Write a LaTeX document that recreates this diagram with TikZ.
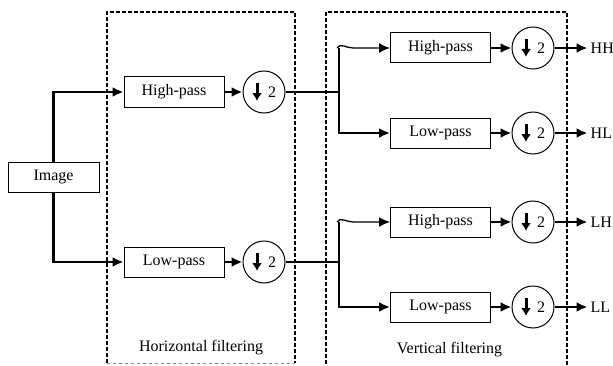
\documentclass[tikz,border=0pt]{standalone}
\usepackage{fontspec}
\setmainfont{Liberation Serif}
\usetikzlibrary{positioning, arrows.meta, calc}

\begin{document}
\begin{tikzpicture}[x=1pt, y=1pt, node distance=90pt, >={Latex[length=11pt,width=10pt]},
    font=\fontsize{16}{19}\selectfont]
        \tikzstyle{filt}=[draw, rectangle, line width=1pt, minimum width=100pt, minimum height=30pt, inner sep=0pt];
        \tikzstyle{down}=[draw, circle, line width=1pt, minimum size=42pt, inner sep=0pt,
          path picture={
            \draw[line width=3pt, -{Latex[length=8pt,width=10pt]}] ([xshift=-7pt,yshift=9pt]path picture bounding box.center) -- ++(0,-18pt);
            \node at ([xshift=8pt]path picture bounding box.center) {2};}];
        \tikzstyle{wire}=[line width=2.6pt];
        \tikzstyle{stage}=[line width=1.6pt, dash pattern=on 4pt off 2pt];
        \tikzstyle{outlabel}=[inner xsep=3pt, inner ysep=0pt];
        \useasboundingbox (0,0) rectangle (613,365);

        % frames of the two stages
        \draw[stage] (107,2) -- (107,353) -- (295,353) -- (295,2);
        \draw[gray, dashed, line width=0.5pt] (107,2) -- (295,2);
        \draw[stage] (326,-5) -- (326,353) -- (567,353) -- (567,-5);
        \node (hlabel) at (201,17) {Horizontal filtering};
        \node (vlabel) at (449.5,15) {Vertical filtering};

        % horizontal stage
        \node[filt, minimum width=91pt] (image) at (53.5,188) {Image};
        \node[filt] (hp) at (174,273) {High-pass};
        \node[filt, below of=hp, node distance=170pt] (lp) {Low-pass};
        \node[down, right of=hp] (dh) {};
        \node[down, right of=lp] (dl) {};
        \coordinate (bh) at (339,273);
        \coordinate (bl) at (339,103);
        \coordinate (bht) at (339,317);
        \coordinate (blt) at (339,143);

        % vertical stage
        \node[filt] (hh) at (440.5,317) {High-pass};
        \node[filt, below of=hh, node distance=85pt] (hl) {Low-pass};
        \node[filt] (lh) at (440.5,143) {High-pass};
        \node[filt, below of=lh, node distance=85pt] (ll) {Low-pass};
        \node[down, right of=hh, node distance=92.5pt] (dhh) {};
        \node[down, right of=hl, node distance=92.5pt] (dhl) {};
        \node[down, right of=lh, node distance=92.5pt] (dlh) {};
        \node[down, right of=ll, node distance=92.5pt] (dll) {};
        \node[outlabel, right=33pt of dhh] (ohh) {HH};
        \node[outlabel, right=33pt of dhl] (ohl) {HL};
        \node[outlabel, right=33pt of dlh] (olh) {LH};
        \node[outlabel, right=33pt of dll] (oll) {LL};

        \draw[wire, ->] (image.north) |- (hp.west);
        \draw[wire, ->] (image.south) |- (lp.west);
        \draw[wire] (dh) -- (bh) -- (bht);
        \draw[wire] (dl) -- (bl) -- (blt);
        \draw[wire, ->] (bh) |- (hl.west);
        \draw[wire, ->] (bl) |- (ll.west);
        \draw[line width=1.3pt, ->] ([xshift=-2pt]bht) to[out=60, in=180] ([xshift=14pt]bht) -- (hh.west);
        \draw[line width=1.3pt, ->] ([xshift=-2pt]blt) to[out=60, in=180] ([xshift=14pt]blt) -- (lh.west);

        \path[wire, ->]
        (hp) edge (dh)
        (lp) edge (dl)
        (hh) edge (dhh)
        (hl) edge (dhl)
        (lh) edge (dlh)
        (ll) edge (dll)
        (dhh) edge (ohh)
        (dhl) edge (ohl)
        (dlh) edge (olh)
        (dll) edge (oll);
      \end{tikzpicture}
\end{document}
